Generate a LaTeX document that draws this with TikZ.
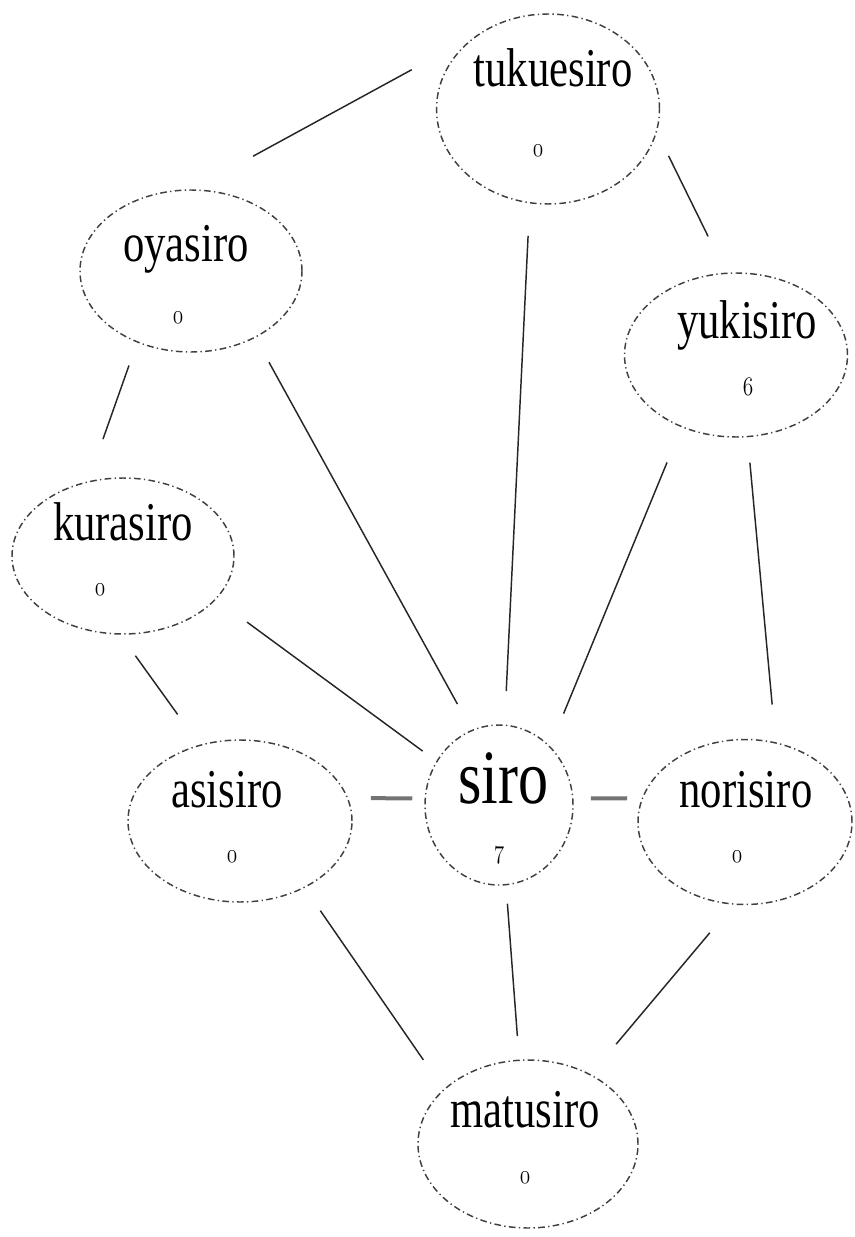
\RequirePackage{fix-cm}
\documentclass[tikz,border=0pt]{standalone}
\usepackage{fontspec}
\setmainfont{Liberation Serif}
\usepackage{tikz}
\usetikzlibrary{shapes.geometric}

% names and counts are set a little tall, as in the drawing
\newcommand{\tallword}[1]{\scalebox{1}[1.28]{#1}}
\newcommand{\countnum}[1]{\scalebox{1}[1.25]{\usefont{OML}{cmm}{m}{it}#1}}

\begin{document}
\begin{tikzpicture}[x=0.75pt,y=-0.75pt,
    bubble/.style={ellipse,draw=black!75,line width=1.1pt,
      dash pattern=on 5pt off 2.5pt on 1pt off 2.5pt,inner sep=0pt},
    word/.style={anchor=base,inner sep=0pt,font=\fontsize{32}{38}\selectfont},
    num/.style={anchor=base,inner sep=0pt,font=\fontsize{16}{20}\selectfont},
    link/.style={line width=1.1pt,black!85},
    biglink/.style={line width=3pt,black!55}]
    \useasboundingbox (0,0) rectangle (854,1237);

    % the rings
    \node[bubble,minimum width=167.25pt,minimum height=142.5pt] (tuk) at (548,109) {};
    \node[bubble,minimum width=166.5pt,minimum height=121.5pt] (oya) at (191,271) {};
    \node[bubble,minimum width=167.25pt,minimum height=123pt] (yuki) at (736,355) {};
    \node[bubble,minimum width=166.5pt,minimum height=117pt] (kura) at (123,556) {};
    \node[bubble,minimum width=168pt,minimum height=121.5pt] (asi) at (240,821) {};
    \node[bubble,minimum width=111pt,minimum height=120pt] (siro) at (499,805) {};
    \node[bubble,minimum width=160.5pt,minimum height=123.75pt] (nori) at (745,822) {};
    \node[bubble,minimum width=165pt,minimum height=126pt] (matu) at (528,1144) {};

    % names and counts
    \node[word] (tuk-name) at (553,87) {\tallword{tukuesiro}};
    \node[num] (tuk-num) at (538,157) {\countnum{0}};
    \node[word] (oya-name) at (186,262) {\tallword{oyasiro}};
    \node[num] (oya-num) at (178,323) {\countnum{0}};
    \node[word] (yuki-name) at (747,338) {\tallword{yukisiro}};
    \node[num] (yuki-num) at (748,395) {\countnum{6}};
    \node[word] (kura-name) at (123,540) {\tallword{kurasiro}};
    \node[num] (kura-num) at (100,595) {\countnum{0}};
    \node[word] (asi-name) at (227,807) {\tallword{asisiro}};
    \node[num] (asi-num) at (232,862) {\countnum{0}};
    \node[word,font=\fontsize{45}{52}\selectfont] (siro-name) at (503,803) {\tallword{siro}};
    \node[num] (siro-num) at (499,858) {\countnum{7}};
    \node[word] (nori-name) at (746,807) {\tallword{norisiro}};
    \node[num] (nori-num) at (737,862) {\countnum{0}};
    \node[word] (matu-name) at (525,1127) {\tallword{matusiro}};
    \node[num] (matu-num) at (525,1183) {\countnum{0}};

    % links
    \draw[link,shorten <=51.8pt,shorten >=63.2pt] (oya.89) -- (tuk.128);
    \draw[link,shorten <=19.8pt,shorten >=30.3pt] (tuk.-12) -- (yuki.97);
    \draw[link,shorten <=18.2pt,shorten >=33.5pt] (oya.-127) -- (kura.115);
    \draw[link,shorten <=21pt,shorten >=22.1pt] (oya.-46) -- (siro.110);
    \draw[link,shorten <=24.3pt,shorten >=25pt] (tuk.-101) -- (siro.86);
    \draw[link,shorten <=28.5pt,shorten >=26.4pt] (yuki.-127) -- (siro.49);
    \draw[link,shorten <=19.1pt,shorten >=28.4pt] (yuki.-82) -- (nori.69);
    \draw[link,shorten <=19.4pt,shorten >=28pt] (kura.-92) -- (asi.118);
    \draw[link,shorten <=28.7pt,shorten >=12.7pt] (kura.-25) -- (siro.145);
    \draw[biglink,shorten <=17pt,shorten >=9.2pt] (asi.12) -- (siro.175);
    \draw[biglink,shorten <=13pt,shorten >=11pt] (siro.5) -- (nori.167);
    \draw[link,shorten <=20.7pt,shorten >=26.7pt] (asi.-46) -- (matu.147);
    \draw[link,shorten <=13.8pt,shorten >=17.6pt] (siro.-85) -- (matu.96);
    \draw[link,shorten <=27.5pt,shorten >=29.5pt] (nori.-98) -- (matu.48);
\end{tikzpicture}
\end{document}
